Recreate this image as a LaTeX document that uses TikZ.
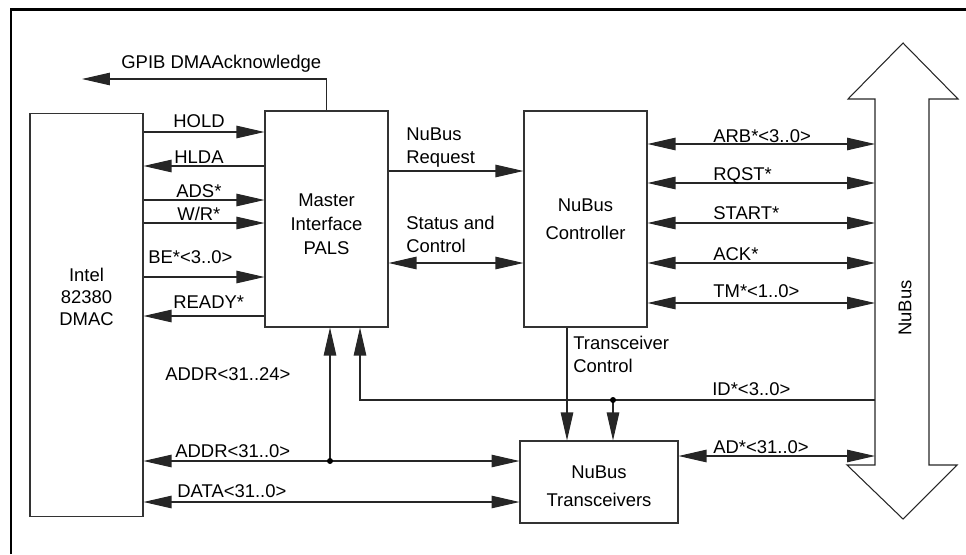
\documentclass[tikz,border=0pt]{standalone}
\usepackage{fontspec}
\setmainfont{Liberation Sans}
\usetikzlibrary{arrows.meta}

\begin{document}
\begin{tikzpicture}[
        x=0.02cm, y=-0.02cm,
        font=\fontsize{10.5}{12.6}\selectfont,
        box/.style={
            draw=black!80,
            line width=0.6pt,
            rectangle,
            align=center,
            inner sep=0pt
        },
        sig/.style={
            draw=black!85,
            line width=0.6pt,
            >={Triangle[length=0.56cm,width=0.25cm]}
        },
        lbl/.style={anchor=base west, inner sep=0pt}
    ]
        \useasboundingbox (0,0) rectangle (966,554);
        \draw[line width=1.7pt] (11,554) -- (11,9.5) -- (966,9.5);

        % blocks
        \node[box, minimum width=2.26cm, minimum height=8.08cm] (intel) at (86.5,315) {};
        \node[align=center, inner sep=0pt] (inteltxt) at (86.5,297) {Intel\\82380\\DMAC};
        \node[box, minimum width=2.46cm, minimum height=4.32cm] (master) at (326.5,219) {};
        \node[align=center, inner sep=0pt] (mastertxt) at (326.5,224) {Master\\[1pt]Interface\\[1pt]PALS};
        \node[box, minimum width=2.46cm, minimum height=4.32cm] (ctrl) at (585.5,219) {NuBus\\[3.3pt]Controller};
        \node[box, minimum width=3.16cm, minimum height=1.64cm] (trx) at (599,482) {};
        \node[align=center, inner sep=0pt] (trxtxt) at (599,486) {NuBus\\[3.3pt]Transceivers};

        % NuBus
        \draw[black!85, line width=0.6pt] (903,43) -- (958,99) -- (929,99) -- (929,465) -- (957,465)
            -- (903,519) -- (847,465) -- (875,465) -- (875,99) -- (848,99) -- cycle;
        \coordinate (busL) at (875,99);
        \node[rotate=90, inner sep=0pt] (nubus) at (905,308) {NuBus};

        % DMAC <-> master
        \draw[sig, ->] (intel.east |- 0,132) -- (master.west |- 0,132);
        \draw[sig, <-] (intel.east |- 0,166) -- (master.west |- 0,166);
        \draw[sig, ->] (intel.east |- 0,200) -- (master.west |- 0,200);
        \draw[sig, ->] (intel.east |- 0,223) -- (master.west |- 0,223);
        \draw[sig, ->] (intel.east |- 0,277) -- (master.west |- 0,277);
        \draw[sig, <-] (intel.east |- 0,316) -- (master.west |- 0,316);
        \node[lbl] (hold) at (173,128) {HOLD};
        \node[lbl] (hlda) at (174,163) {HLDA};
        \node[lbl] (ads) at (176,197) {ADS*};
        \node[lbl] (wr) at (177,220) {W/R*};
        \node[lbl] (be) at (148,263) {BE*<3..0>};
        \node[lbl] (ready) at (173,308) {READY*};

        % acknowledge
        \coordinate (gpib) at (82,79);
        \draw[sig, ->] (master.north) |- (gpib);
        \node[lbl] (gpibtxt) at (121,69) {GPIB DMAAcknowledge};

        % master <-> controller
        \draw[sig, ->] (master.east |- 0,171) -- (ctrl.west |- 0,171);
        \draw[sig, <->] (master.east |- 0,263) -- (ctrl.west |- 0,263);
        \node[lbl, align=left] (req) at (406,163) {NuBus\\Request};
        \node[lbl, align=left] (stat) at (406,252) {Status and\\Control};

        % controller <-> NuBus
        \foreach \yy/\bl/\txt in {144/142/{ARB*<3..0>}, 183/180/{RQST*}, 223/219/{START*},
                263/260/{ACK*}, 303/297/{TM*<1..0>}} {
            \draw[sig, <->] (ctrl.east |- 0,\yy) -- (busL |- 0,\yy);
            \node[lbl] at (713,\bl) {\txt};
        }

        % address and data
        \coordinate (addrdot) at (330,461);
        \draw[sig, <->] (intel.east |- addrdot) -- (trx.west |- addrdot);
        \draw[sig, ->] (addrdot) -- (master.south -| addrdot);
        \fill (addrdot) circle (0.06cm);
        \draw[sig, <->] (intel.east |- 0,502) -- (trx.west |- 0,502);
        \node[lbl] (addr24) at (165,380) {ADDR<31..24>};
        \node[lbl] (addr0) at (175,457) {ADDR<31..0>};
        \node[lbl] (data) at (177,497) {DATA<31..0>};

        % ID lines
        \coordinate (iddot) at (613,400);
        \coordinate (idcorner) at (360,400);
        \draw[sig, ->] (busL |- iddot) -| (master.south -| idcorner);
        \draw[sig, ->] (iddot) -- (trx.north -| iddot);
        \fill (iddot) circle (0.06cm);
        \node[lbl] (id) at (712,395) {ID*<3..0>};

        % transceiver control
        \draw[sig, ->] (ctrl.south -| 567,0) -- (trx.north -| 567,0);
        \node[lbl, align=left] (tctl) at (573,372) {Transceiver\\Control};

        % AD
        \draw[sig, <->] (trx.east |- 0,456) -- (busL |- 0,456);
        \node[lbl] (ad) at (713,453) {AD*<31..0>};
    \end{tikzpicture}
\end{document}
